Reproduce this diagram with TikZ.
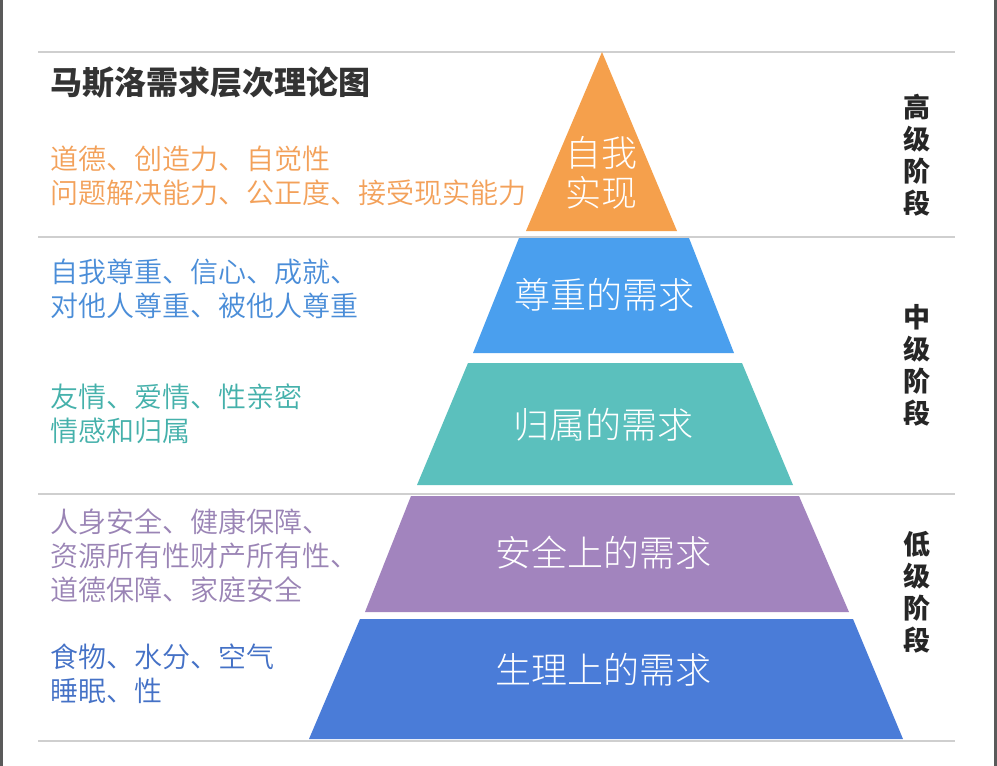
\documentclass[tikz,border=0pt]{standalone}
\usepackage{fontspec}
\setmainfont{Noto Sans CJK SC}
\newfontfamily\cjklight{Noto Sans CJK SC Light}
\newfontfamily\cjkdemi{Noto Sans CJK SC DemiLight}
\definecolor{framegray}{HTML}{5A5A5A}
\definecolor{sepgray}{HTML}{CFCFCF}
\definecolor{cOrange}{HTML}{F5A04C}
\definecolor{cBlue}{HTML}{4A9FEE}
\definecolor{cTeal}{HTML}{5BC0BD}
\definecolor{cPurple}{HTML}{A284BE}
\definecolor{cDBlue}{HTML}{4A7CD8}
\definecolor{tOrange}{HTML}{F3A15A}
\definecolor{tBlue}{HTML}{4A8DD8}
\definecolor{tTeal}{HTML}{45B1AB}
\definecolor{tPurple}{HTML}{9A84B5}
\definecolor{tDBlue}{HTML}{4471C6}
\definecolor{titlegray}{HTML}{333333}
\begin{document}
\begin{tikzpicture}[x=1pt,y=-1pt,
  sepline/.style={draw=sepgray,line width=1.5pt},
  desc/.style={anchor=west,align=left,inner sep=0pt,font=\cjkdemi\fontsize{28}{34}\selectfont},
  layerlabel/.style={text=white,align=center,inner sep=0pt,font=\cjklight\fontsize{36}{40}\selectfont},
  stagelabel/.style={text=black!85,align=center,inner sep=0pt,font=\fontsize{27}{32}\selectfont\bfseries}
]
\useasboundingbox (0,0) rectangle (997,766);
\fill[white] (0,0) rectangle (997,766);
\fill[framegray] (0,0) rectangle (3,766);
\fill[framegray] (994,0) rectangle (997,766);

% separator lines
\coordinate (l1a) at (38,52);  \coordinate (l1b) at (955,52);
\coordinate (l2a) at (38,237); \coordinate (l2b) at (955,237);
\coordinate (l3a) at (38,494); \coordinate (l3b) at (955,494);
\coordinate (l4a) at (38,741); \coordinate (l4b) at (955,741);
\draw[sepline] (l1a) -- (l1b);
\draw[sepline] (l2a) -- (l2b);
\draw[sepline] (l3a) -- (l3b);
\draw[sepline] (l4a) -- (l4b);

% pyramid layers
\fill[cOrange] (602,52) -- (677,231) -- (526,231) -- cycle;
\fill[cBlue] (519,238) -- (689,238) -- (734,353) -- (473,353) -- cycle;
\fill[cTeal] (468,363) -- (742,363) -- (793,485) -- (417,485) -- cycle;
\fill[cPurple] (411,496) -- (799,496) -- (849,612) -- (365,612) -- cycle;
\fill[cDBlue] (360,619) -- (853,619) -- (903,739) -- (309,739) -- cycle;

% layer labels
\node[layerlabel] (self) at (601,173) {自我\\实现};
\node[layerlabel] (esteem) at (604,295) {尊重的需求};
\node[layerlabel] (belong) at (603,425) {归属的需求};
\node[layerlabel] (safety) at (603,553) {安全上的需求};
\node[layerlabel] (physio) at (603,670) {生理上的需求};

% title
\node[anchor=west,inner sep=0pt,text=titlegray,font=\fontsize{32}{36}\selectfont\bfseries] (title) at (50,83) {马斯洛需求层次理论图};

% descriptions
\node[desc,text=tOrange] (dself) at (50,176) {道德、创造力、自觉性\\问题解决能力、公正度、接受现实能力};
\node[desc,text=tBlue] (desteem) at (50,289) {自我尊重、信心、成就、\\对他人尊重、被他人尊重};
\node[desc,text=tTeal] (dbelong) at (50,414) {友情、爱情、性亲密\\情感和归属};
\node[desc,text=tPurple] (dsafety) at (50,556) {人身安全、健康保障、\\资源所有性财产所有性、\\道德保障、家庭安全};
\node[desc,text=tDBlue] (dphysio) at (50,674) {食物、水分、空气\\睡眠、性};

% stage labels
\node[stagelabel] (high) at (917,155) {高\\级\\阶\\段};
\node[stagelabel] (mid) at (917,365) {中\\级\\阶\\段};
\node[stagelabel] (low) at (917,592) {低\\级\\阶\\段};
\end{tikzpicture}
\end{document}
